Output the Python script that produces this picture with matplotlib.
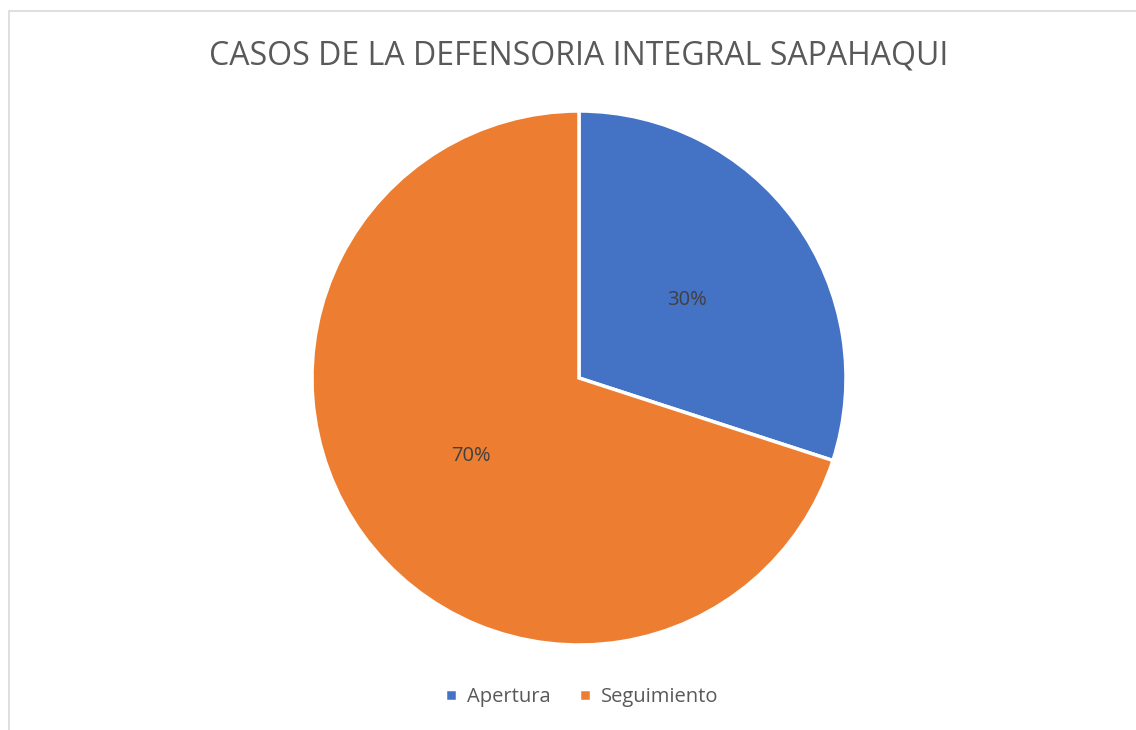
import matplotlib.pyplot as plt
from matplotlib.patches import Rectangle

plt.rcParams['font.family'] = ['Open Sans', 'DejaVu Sans']

labels = ['Apertura', 'Seguimiento']
values = [30, 70]
colors = ['#4472C4', '#ED7D31']
title = 'CASOS DE LA DEFENSORIA INTEGRAL SAPAHAQUI'

fig = plt.figure(figsize=(11.36, 7.30), dpi=100)

# borde gris del área del gráfico
fig.patches.append(Rectangle((8.5 / 1136, -0.1), 1.2, 1 - 10.5 / 730 + 0.1,
                             transform=fig.transFigure, fill=False,
                             edgecolor='#d9d9d9', linewidth=1.2))

ax = fig.add_axes([312 / 1136, 85 / 730, 534 / 1136, 534 / 730])
wedges, texts, autotexts = ax.pie(values, colors=colors, startangle=90,
                                  counterclock=False, autopct='%1.0f%%',
                                  pctdistance=0.5,
                                  wedgeprops=dict(edgecolor='white', linewidth=2.5),
                                  textprops=dict(color='#404040', fontsize=14.5))
ax.set_xlim(-1, 1)
ax.set_ylim(-1, 1)
ax.set_aspect('equal')

fig.text(579 / 1136, 1 - 56 / 730, title, ha='center', va='center',
         fontsize=23, color='#595959')

fig.legend(wedges, labels, loc='center', bbox_to_anchor=(582 / 1136, 1 - 697 / 730),
           ncol=2, frameon=False, fontsize=14.5, handlelength=0.6, handleheight=0.6,
           handletextpad=0.5, columnspacing=1.4, labelcolor='#595959')

fig.savefig('out.png', dpi=100)
